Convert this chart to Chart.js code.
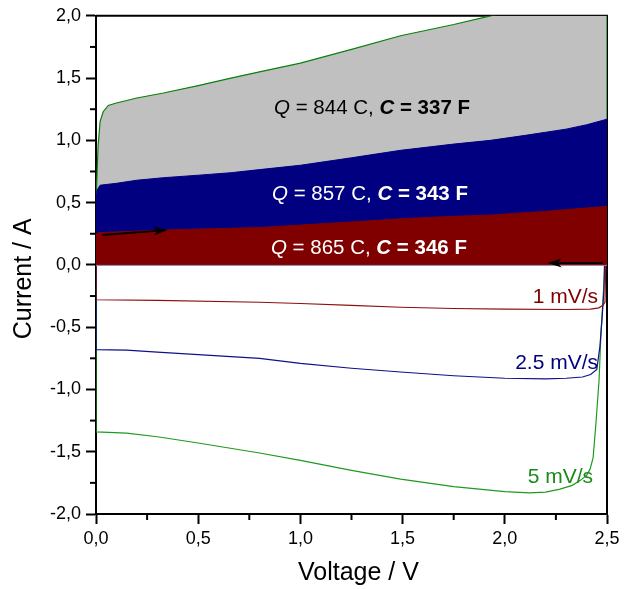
<!DOCTYPE html>
<html>
<head>
<meta charset="utf-8">
<script src="https://cdn.jsdelivr.net/npm/chart.js@4.4.1/dist/chart.umd.min.js"></script>
<style>
  html, body { margin: 0; padding: 0; background: #fff; }
</style>
</head>
<body>
<canvas id="cv" width="629" height="589"></canvas>
<script>
// charge branches (upper, filled) and discharge branches (lower), voltage in V, current in A
var v1Up = [0, 0, 0.01, 0.03, 0.33, 0.8, 1.0, 1.25, 1.49, 1.75, 1.93, 2.2, 2.5, 2.5];
var i1Up = [0, 0.24, 0.26, 0.26, 0.28, 0.30, 0.32, 0.345, 0.37, 0.39, 0.40, 0.43, 0.47, 0];
var v1Down = [2.5, 2.49, 2.48, 2.46, 2.42, 2.3, 2.0, 1.75, 1.49, 1.25, 1.0, 0.8, 0.3, 0, 0];
var i1Down = [0.47, -0.30, -0.325, -0.345, -0.355, -0.358, -0.355, -0.35, -0.34, -0.325, -0.31, -0.30, -0.285, -0.28, 0];

var v25Up = [0, 0, 0.005, 0.02, 0.1, 0.2, 0.33, 0.5, 0.66, 0.8, 1.0, 1.25, 1.49, 1.75, 1.93, 2.1, 2.2, 2.3, 2.4, 2.5, 2.5];
var i25Up = [0, 0.5, 0.6, 0.64, 0.655, 0.68, 0.70, 0.72, 0.74, 0.765, 0.80, 0.86, 0.92, 0.97, 1.0, 1.04, 1.065, 1.09, 1.125, 1.17, 0];
var v25Down = [2.5, 2.49, 2.485, 2.475, 2.465, 2.45, 2.42, 2.38, 2.3, 2.2, 2.0, 1.75, 1.49, 1.25, 1.0, 0.8, 0.5, 0.3, 0.15, 0, 0];
var i25Down = [1.17, 0.2, -0.2, -0.45, -0.66, -0.84, -0.88, -0.90, -0.91, -0.915, -0.91, -0.89, -0.86, -0.83, -0.79, -0.75, -0.72, -0.70, -0.685, -0.68, 0];

var v5Up = [0, 0, 0.01, 0.02, 0.035, 0.06, 0.1, 0.2, 0.33, 0.5, 0.66, 0.8, 1.0, 1.25, 1.49, 1.75, 1.93, 2.2, 2.5, 2.5];
var i5Up = [0, 0.5, 0.95, 1.15, 1.23, 1.28, 1.30, 1.34, 1.38, 1.44, 1.50, 1.55, 1.62, 1.73, 1.84, 1.93, 2.0, 2.1, 2.25, 0];
var v5Down = [2.5, 2.5, 2.48, 2.471, 2.461, 2.446, 2.432, 2.417, 2.4, 2.37, 2.33, 2.27, 2.2, 2.12, 2.0, 1.75, 1.49, 1.25, 1.0, 0.8, 0.5, 0.3, 0.15, 0, 0];
var i5Down = [2.25, 0.3, -0.29, -0.53, -0.93, -1.27, -1.55, -1.64, -1.69, -1.73, -1.77, -1.80, -1.825, -1.83, -1.82, -1.78, -1.72, -1.65, -1.57, -1.51, -1.43, -1.38, -1.35, -1.34, 0];

var rateLabels = ['1 mV/s', '2.5 mV/s', '5 mV/s'];
var chargeQ = [865, 857, 844];
var capC = [346, 343, 337];

var arrowFrom = [[0.03, 0.24], [2.48, 0.015]];
var arrowTo = [[0.35, 0.28], [2.21, 0.015]];

var FONT = '"Liberation Sans", Arial, sans-serif';

function pts(xs, ys) {
  var out = [];
  for (var k = 0; k < xs.length; k++) out.push({x: xs[k], y: ys[k]});
  return out;
}

function fmt(v) {
  return v.toFixed(1).replace('.', ',');
}

function richText(ctx, parts, x, y, color) {
  ctx.fillStyle = color;
  ctx.textAlign = 'left';
  ctx.textBaseline = 'alphabetic';
  var cx = x;
  parts.forEach(function (p) {
    ctx.font = p[0] + ' 20.5px ' + FONT;
    ctx.fillText(p[1], cx, y);
    cx += ctx.measureText(p[1]).width;
  });
}

var extras = {
  id: 'extras',
  beforeDatasetsDraw: function (chart) {
    var ctx = chart.ctx, a = chart.chartArea, x = chart.scales.x, y = chart.scales.y;
    ctx.save();
    ctx.strokeStyle = '#000';
    ctx.lineWidth = 2;
    ctx.beginPath();
    ctx.moveTo(a.left, a.top);
    ctx.lineTo(a.right, a.top);
    ctx.lineTo(a.right, a.bottom);
    ctx.stroke();
    // minor ticks
    for (var k = -8; k <= 10; k++) {
      if (k % 2 === 0) continue;
      var v = k * 0.25;
      if (v > 0 && v < 2.5) {
        var px = x.getPixelForValue(v);
        ctx.beginPath(); ctx.moveTo(px, a.bottom); ctx.lineTo(px, a.bottom + 6); ctx.stroke();
      }
      if (v > -2 && v < 2) {
        var py = y.getPixelForValue(v);
        ctx.beginPath(); ctx.moveTo(a.left - 6, py); ctx.lineTo(a.left, py); ctx.stroke();
      }
    }
    ctx.restore();
  },
  afterDatasetsDraw: function (chart) {
    var ctx = chart.ctx, a = chart.chartArea, x = chart.scales.x, y = chart.scales.y;
    ctx.save();
    // zero line
    var y0 = y.getPixelForValue(0);
    ctx.strokeStyle = '#8585a0';
    ctx.lineWidth = 1;
    ctx.beginPath(); ctx.moveTo(a.left, y0 + 0.5); ctx.lineTo(a.right, y0 + 0.5); ctx.stroke();

    // arrows
    ctx.strokeStyle = '#000';
    ctx.fillStyle = '#000';
    ctx.lineWidth = 1.8;
    for (var k = 0; k < arrowFrom.length; k++) {
      var x1 = x.getPixelForValue(arrowFrom[k][0]), y1 = y.getPixelForValue(arrowFrom[k][1]);
      var x2 = x.getPixelForValue(arrowTo[k][0]), y2 = y.getPixelForValue(arrowTo[k][1]);
      var ang = Math.atan2(y2 - y1, x2 - x1);
      var c = Math.cos(ang), s = Math.sin(ang);
      ctx.beginPath(); ctx.moveTo(x1, y1); ctx.lineTo(x2 - 8 * c, y2 - 8 * s); ctx.stroke();
      ctx.beginPath();
      ctx.moveTo(x2, y2);
      ctx.lineTo(x2 - 14 * c + 4.5 * s, y2 - 14 * s - 4.5 * c);
      ctx.lineTo(x2 - 10 * c, y2 - 10 * s);
      ctx.lineTo(x2 - 14 * c - 4.5 * s, y2 - 14 * s + 4.5 * c);
      ctx.closePath();
      ctx.fill();
    }

    // Q / C annotations
    var qPos = [[0.856, 0.088, '#fff'], [0.861, 0.52, '#fff'], [0.871, 1.208, '#000']];
    for (var n = 0; n < 3; n++) {
      richText(ctx, [
        ['italic', 'Q'],
        ['normal', ' = ' + chargeQ[n] + ' C, '],
        ['italic bold', 'C'],
        ['bold', ' = ' + capC[n] + ' F']
      ], x.getPixelForValue(qPos[n][0]), y.getPixelForValue(qPos[n][1]), qPos[n][2]);
    }

    // scan-rate labels
    var rPos = [[2.456, -0.304, '#800000'], [2.456, -0.832, '#000080'], [2.432, -1.752, '#1a8a1a']];
    ctx.font = '21px ' + FONT;
    ctx.textAlign = 'right';
    ctx.textBaseline = 'alphabetic';
    for (var m = 0; m < 3; m++) {
      ctx.fillStyle = rPos[m][2];
      ctx.fillText(rateLabels[m], x.getPixelForValue(rPos[m][0]), y.getPixelForValue(rPos[m][1]));
    }
    ctx.restore();
  }
};

function line(data, color, width) {
  return {data: data, showLine: true, pointRadius: 0, borderColor: color, borderWidth: width, fill: false, tension: 0};
}

var red = line(pts(v1Up, i1Up), '#800000', 1);
red.fill = 'origin'; red.backgroundColor = '#800000';
var blue = line(pts(v25Up, i25Up), '#000080', 1);
blue.fill = 'origin'; blue.backgroundColor = '#000080';
var green = line(pts(v5Up, i5Up), '#0a800a', 1.2);
green.fill = 'origin'; green.backgroundColor = '#c0c0c0';

new Chart(document.getElementById('cv'), {
  type: 'scatter',
  data: {
    datasets: [
      red,
      line(pts(v1Down, i1Down), '#8b1010', 1.2),
      blue,
      line(pts(v25Down, i25Down), '#10108a', 1.2),
      green,
      line(pts(v5Down, i5Down), '#1f9a1f', 1.2)
    ]
  },
  options: {
    responsive: false,
    animation: false,
    layout: {padding: {top: 15, right: 22, left: 0, bottom: 0}},
    plugins: {legend: {display: false}, tooltip: {enabled: false}},
    scales: {
      x: {
        type: 'linear', min: 0, max: 2.5,
        ticks: {stepSize: 0.5, color: '#000', font: {family: FONT, size: 18}, padding: 4, callback: fmt},
        grid: {drawOnChartArea: false, tickLength: 10, tickWidth: 2, tickColor: '#000'},
        border: {color: '#000', width: 2},
        title: {display: true, text: '  Voltage / V', color: '#000', font: {family: FONT, size: 25}, padding: {top: 0, bottom: 1}},
        afterFit: function (s) { s.height = 75; }
      },
      y: {
        type: 'linear', min: -2, max: 2,
        ticks: {stepSize: 0.5, color: '#000', font: {family: FONT, size: 18}, padding: 5, callback: fmt},
        grid: {drawOnChartArea: false, tickLength: 10, tickWidth: 2, tickColor: '#000'},
        border: {color: '#000', width: 2},
        title: {display: true, text: 'Current / A    ', color: '#000', font: {family: FONT, size: 25}, padding: {top: 9, bottom: 0}},
        afterFit: function (s) { s.width = 96; }
      }
    }
  },
  plugins: [extras]
});
</script>
</body>
</html>
